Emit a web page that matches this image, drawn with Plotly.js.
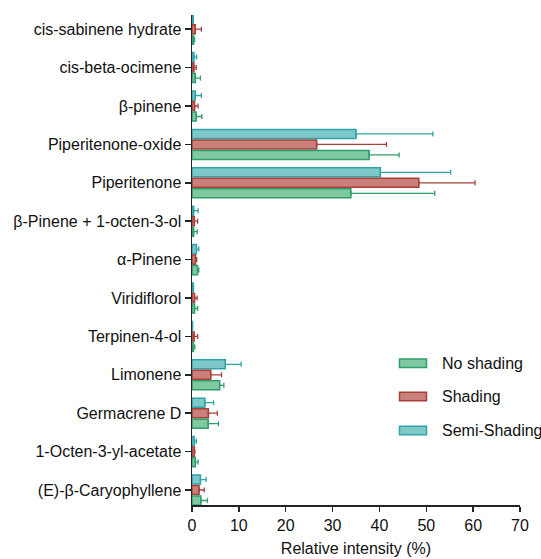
<!DOCTYPE html>
<html><head><meta charset="utf-8">
<script src="https://cdn.plot.ly/plotly-3.0.1.min.js"></script>
<style>body{margin:0;background:#fff}#chart{width:541px;height:559px}</style>
</head><body><div id="chart"></div>
<script>
const categories = ["cis-sabinene hydrate","cis-beta-ocimene","β-pinene","Piperitenone-oxide","Piperitenone","β-Pinene + 1-octen-3-ol","α-Pinene","Viridiflorol","Terpinen-4-ol","Limonene","Germacrene D","1-Octen-3-yl-acetate","(E)-β-Caryophyllene"];
const noShading     = [0.35, 0.7, 0.9, 37.8, 33.9, 0.35, 1.2, 0.55, 0.3, 5.9, 3.45, 0.7, 1.9];
const noShadingErr  = [0.2, 1.1, 1.2, 6.4, 17.9, 0.75, 0.25, 0.65, 0.3, 0.9, 2.2, 0.6, 1.4];
const shading       = [0.7, 0.4, 0.55, 26.6, 48.4, 0.5, 0.75, 0.55, 0.45, 4.0, 3.5, 0.5, 1.5];
const shadingErr    = [1.3, 0.5, 0.75, 14.9, 12.0, 0.7, 0.25, 0.55, 0.75, 2.3, 1.9, 0.1, 1.1];
const semiShading   = [0.25, 0.4, 0.7, 35.0, 40.2, 0.35, 0.95, 0.3, 0.1, 7.1, 2.75, 0.5, 1.8];
const semiShadingErr= [0.0, 0.6, 1.3, 16.4, 15.0, 0.95, 0.5, 0.0, 0.0, 3.4, 1.85, 0.45, 1.2];
const seriesNames = ["No shading","Shading","Semi-Shading"];
const fills = ['#80c9a0','#c9807a','#7ec9c8'];
const lines = ['#2f9e6b','#a8403a','#2ea3a8'];

function tr(i, vals, errs){
  return {type:'bar', orientation:'h', name:seriesNames[i], y:categories, x:vals,
    marker:{color:fills[i], line:{color:lines[i], width:1.5}},
    error_x:{type:'data', symmetric:false, array:errs, arrayminus:vals.map(()=>0), color:lines[i], thickness:1.3, width:2.5}};
}
const data = [
  tr(2, semiShading, semiShadingErr),
  tr(1, shading, shadingErr),
  tr(0, noShading, noShadingErr)
];

// custom legend (paper coords from pixel positions)
const L=192, R=520, T=15, B=505;
const px = x => (x-L)/(R-L), py = y => (B-y)/(B-T);
const legCenters = [363.3, 396.5, 430.5];
const shapes = [], annotations = [];
seriesNames.forEach((n,i)=>{
  const c = legCenters[i];
  shapes.push({type:'rect', xref:'paper', yref:'paper', x0:px(399.5), x1:px(426.5), y0:py(c+4.3), y1:py(c-4.3),
    fillcolor:fills[i], line:{color:lines[i], width:1.5}});
  annotations.push({xref:'paper', yref:'paper', x:px(440), y:py(c), xanchor:'left', yanchor:'middle',
    text:n, showarrow:false, font:{size:16, color:'#111'}});
});

const layout = {
  width:541, height:559,
  margin:{l:L, r:541-R, t:T, b:559-B},
  paper_bgcolor:'#fff', plot_bgcolor:'#fff',
  font:{family:'Liberation Sans, Arial, sans-serif', size:16, color:'#111'},
  barmode:'group', bargap:0.18, bargroupgap:0.14,
  xaxis:{range:[0,70], dtick:10, tick0:0, showgrid:false, zeroline:false,
    showline:true, linecolor:'#222', linewidth:1.5, ticks:'outside', ticklen:5, tickwidth:1.5, tickcolor:'#222',
    tickfont:{size:16}, title:{text:'Relative intensity (%)', font:{size:16}, standoff:10}},
  yaxis:{type:'category', categoryorder:'array', categoryarray:categories, range:[12.39,-0.37], autorange:false,
    showgrid:false, zeroline:false, showline:true, linecolor:'#222', linewidth:1.5,
    ticks:'outside', ticklen:6, tickwidth:1.5, tickcolor:'#222', tickfont:{size:16}},
  showlegend:false,
  shapes:shapes, annotations:annotations
};
Plotly.newPlot('chart', data, layout, {displayModeBar:false, staticPlot:true});
</script></body></html>
